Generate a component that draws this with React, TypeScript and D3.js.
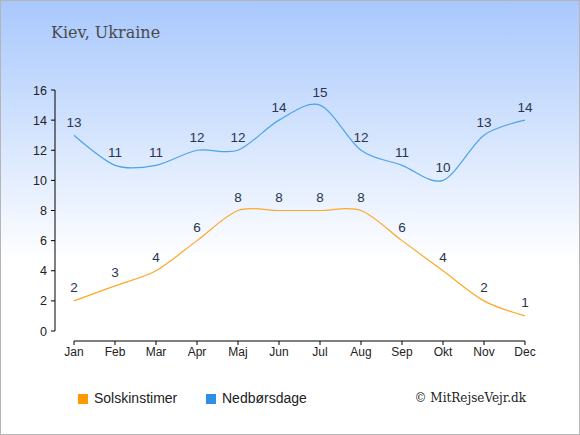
import React from "react";
import * as d3 from "d3";

const months = ["Jan", "Feb", "Mar", "Apr", "Maj", "Jun", "Jul", "Aug", "Sep", "Okt", "Nov", "Dec"];
const sunHours = [2, 3, 4, 6, 8, 8, 8, 8, 6, 4, 2, 1];
const rainDays = [13, 11, 11, 12, 12, 14, 15, 12, 11, 10, 13, 14];
const yTicks = [0, 2, 4, 6, 8, 10, 12, 14, 16];

const W = 580;
const H = 435;
const sans = "'Liberation Sans', Arial, sans-serif";
const serif = "'DejaVu Serif', Georgia, serif";

export default function App() {
  const x = d3.scalePoint<string>().domain(months).range([74, 525]);
  const y = d3.scaleLinear().domain([0, 16]).range([331, 90]);

  const line = d3
    .line<number>()
    .x((_, i) => x(months[i]) as number)
    .y((d) => y(d))
    .curve(d3.curveCardinal.tension(0.1));

  const series = [
    { name: "Solskinstimer", values: sunHours, color: "#ffa726", key: "#ff9900" },
    { name: "Nedbørsdage", values: rainDays, color: "#4ba3ea", key: "#2f8fe6" },
  ];

  return (
    <div style={{ position: "absolute", left: 0, top: 0 }}>
      <svg width={W} height={H} style={{ display: "block" }}>
        <defs>
          <linearGradient id="bg" x1="0" y1="0" x2="0" y2="1">
            <stop offset="0" stopColor="#a8c8fd" />
            <stop offset="0.6" stopColor="#ffffff" />
            <stop offset="1" stopColor="#ffffff" />
          </linearGradient>
        </defs>
        <rect x={0.5} y={0.5} width={W - 1} height={H - 1} fill="url(#bg)" stroke="#b5b5b5" />

        <text x={51} y={38} fontFamily={serif} fontSize={16} fill="#4a4a4a">
          Kiev, Ukraine
        </text>

        {/* y axis */}
        <line x1={55} x2={55} y1={y(16)} y2={y(0)} stroke="#000" />
        {yTicks.map((t) => (
          <g key={t}>
            <line x1={51} x2={55} y1={y(t)} y2={y(t)} stroke="#000" />
            <text x={47} y={y(t) + 4.5} textAnchor="end" fontFamily={sans} fontSize={12.5} fill="#222">
              {t}
            </text>
          </g>
        ))}

        {/* x axis */}
        <line x1={x("Jan")} x2={x("Dec")} y1={341} y2={341} stroke="#000" />
        {months.map((m) => (
          <g key={m}>
            <line x1={x(m)} x2={x(m)} y1={341} y2={345} stroke="#000" />
            <text x={x(m)} y={356} textAnchor="middle" fontFamily={sans} fontSize={12} fill="#222">
              {m}
            </text>
          </g>
        ))}

        {series.map((s) => (
          <g key={s.name}>
            <path d={line(s.values) || ""} fill="none" stroke={s.color} strokeWidth={1.2} />
            {s.values.map((v, i) => (
              <text
                key={i}
                x={x(months[i])}
                y={y(v) - 8.5}
                textAnchor="middle"
                fontFamily={sans}
                fontSize={13.5}
                fill="#283450"
              >
                {v}
              </text>
            ))}
          </g>
        ))}

        {/* legend */}
        <rect x={78} y={394} width={10} height={10} fill={series[0].key} />
        <text x={94} y={403} fontFamily={sans} fontSize={14} fill="#222">
          {series[0].name}
        </text>
        <rect x={206} y={394} width={10} height={10} fill={series[1].key} />
        <text x={222} y={403} fontFamily={sans} fontSize={14} fill="#222">
          {series[1].name}
        </text>

        <text x={526} y={402} textAnchor="end" fontFamily={serif} fontSize={12} fill="#222">
          © MitRejseVejr.dk
        </text>
      </svg>
    </div>
  );
}
